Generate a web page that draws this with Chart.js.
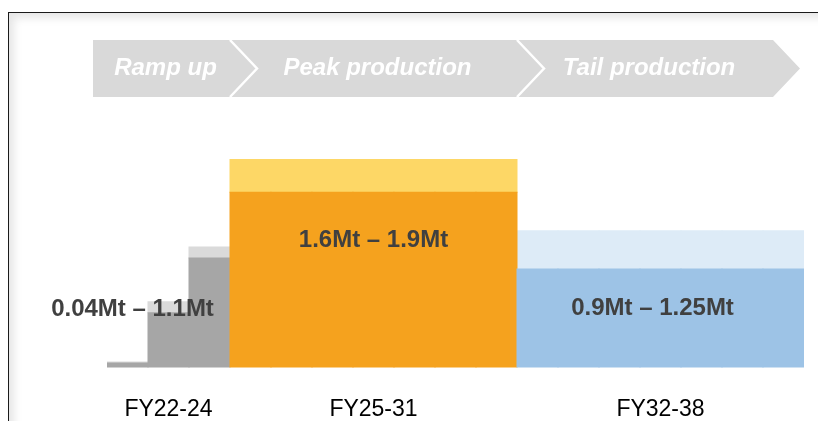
<!DOCTYPE html>
<html>
<head>
<meta charset="utf-8">
<script src="https://cdn.jsdelivr.net/npm/chart.js@4.4.1/dist/chart.umd.min.js"></script>
<style>
  html, body { margin: 0; padding: 0; background: #fff; overflow: hidden; }
  #frame {
    position: absolute; left: 8px; top: 12px; width: 900px; height: 500px;
    border-top: 1.5px solid #1a1a1a; border-left: 1.5px solid #1a1a1a;
    box-shadow: inset 5px 5px 9px rgba(0, 0, 0, 0.10);
  }
  #wrap { position: absolute; left: 0; top: 0; width: 818px; height: 452px; }
</style>
</head>
<body>
<div id="frame"></div>
<div id="wrap"><canvas id="chart"></canvas></div>
<script>
// one bar per financial year, grouped into three phases
const years = ['FY22', 'FY23', 'FY24', 'FY25', 'FY26', 'FY27', 'FY28', 'FY29', 'FY30',
  'FY31', 'FY32', 'FY33', 'FY34', 'FY35', 'FY36', 'FY37', 'FY38'];
const periods = ['FY22-24', 'FY25-31', 'FY32-38'];
const periodYears = [3, 7, 7];
const phases = ['Ramp up', 'Peak production', 'Tail production'];

// production range, Mt per year (low / high)
const lowMt = [0.04, 0.5, 1.0, 1.6, 1.6, 1.6, 1.6, 1.6, 1.6, 1.6, 0.9, 0.9, 0.9, 0.9, 0.9, 0.9, 0.9];
const highMt = [0.05, 0.6, 1.1, 1.9, 1.9, 1.9, 1.9, 1.9, 1.9, 1.9, 1.25, 1.25, 1.25, 1.25, 1.25, 1.25, 1.25];
const rangeLabels = ['0.04Mt \u2013 1.1Mt', '1.6Mt \u2013 1.9Mt', '0.9Mt \u2013 1.25Mt'];

const baseColors = ['#A6A6A6', '#F5A21E', '#9DC3E6'];
const topColors = ['#DADADA', '#FDD766', '#DDEBF7'];

function periodOf(i) {
  let acc = 0;
  for (let p = 0; p < periodYears.length; p++) {
    acc += periodYears[p];
    if (i < acc) return p;
  }
  return periodYears.length - 1;
}

function midYears() {
  let start = 0;
  return periodYears.map(n => {
    const m = start + Math.floor(n / 2);
    start += n;
    return m;
  });
}

function periodEdges(chart) {
  const x = chart.scales.x;
  const unit = (x.right - x.left) / years.length;
  const edges = [];
  let start = 0;
  periodYears.forEach(n => { edges.push(x.left + start * unit); start += n; });
  edges.push(x.right);
  return edges;
}

const chevrons = {
  id: 'chevrons',
  beforeDatasetsDraw(chart) {
    const ctx = chart.ctx;
    const x = chart.scales.x;
    const edges = periodEdges(chart);
    const top = 40, bot = 97, mid = 68.5, d = 27;
    ctx.save();
    phases.forEach((name, p) => {
      const L = p === 0 ? x.left - 14 : edges[p];
      const R = p === phases.length - 1 ? x.right - 31 : edges[p + 1];
      ctx.beginPath();
      ctx.moveTo(L, top);
      ctx.lineTo(R, top);
      ctx.lineTo(R + d, mid);
      ctx.lineTo(R, bot);
      ctx.lineTo(L, bot);
      if (p > 0) ctx.lineTo(L + d, mid);
      ctx.closePath();
      ctx.fillStyle = '#D9D9D9';
      ctx.fill();
      if (p > 0) {
        ctx.beginPath();
        ctx.moveTo(L, top);
        ctx.lineTo(L + d, mid);
        ctx.lineTo(L, bot);
        ctx.strokeStyle = '#ffffff';
        ctx.lineWidth = 2.5;
        ctx.stroke();
      }
      ctx.fillStyle = '#ffffff';
      ctx.font = 'italic bold 24px "Liberation Sans", Arial, sans-serif';
      ctx.textAlign = 'center';
      ctx.textBaseline = 'middle';
      ctx.fillText(name, (L + R) / 2 + 4, mid);
    });
    ctx.restore();
  }
};

const rangeText = {
  id: 'rangeText',
  afterDatasetsDraw(chart) {
    const ctx = chart.ctx;
    const y = chart.scales.y;
    const edges = periodEdges(chart);
    const dx = [-36, 0, -8];
    const at = [0.53, 1.16, 0.54];
    ctx.save();
    ctx.fillStyle = '#404040';
    ctx.font = 'bold 24px "Liberation Sans", Arial, sans-serif';
    ctx.textAlign = 'center';
    ctx.textBaseline = 'middle';
    rangeLabels.forEach((t, p) => {
      ctx.fillText(t, (edges[p] + edges[p + 1]) / 2 + dx[p], y.getPixelForValue(at[p]));
    });
    ctx.restore();
  }
};

const mids = midYears();

new Chart(document.getElementById('chart'), {
  type: 'bar',
  data: {
    labels: years,
    datasets: [
      {
        label: 'Low',
        data: lowMt.map(v => [0, v]),
        backgroundColor: c => baseColors[periodOf(c.dataIndex)]
      },
      {
        label: 'High',
        data: lowMt.map((v, i) => [v, highMt[i]]),
        backgroundColor: c => topColors[periodOf(c.dataIndex)]
      }
    ]
  },
  options: {
    responsive: true,
    maintainAspectRatio: false,
    animation: false,
    layout: { padding: { left: 107, right: 14, top: 39, bottom: 0.5 } },
    datasets: {
      bar: {
        grouped: false,
        barPercentage: 1,
        categoryPercentage: 1,
        borderWidth: 0,
        inflateAmount: 0.5
      }
    },
    plugins: {
      legend: { display: false },
      tooltip: { enabled: false }
    },
    scales: {
      x: {
        grid: { display: false, drawTicks: false },
        border: { display: false },
        ticks: {
          autoSkip: false,
          maxRotation: 0,
          minRotation: 0,
          padding: 30.5,
          color: '#000000',
          font: { family: '"Liberation Sans", Arial, sans-serif', size: 23, lineHeight: 1 },
          callback: (v, i) => {
            const p = mids.indexOf(i);
            return p >= 0 ? periods[p] : '';
          }
        }
      },
      y: {
        display: false,
        min: 0,
        max: 3
      }
    }
  },
  plugins: [chevrons, rangeText]
});
</script>
</body>
</html>
